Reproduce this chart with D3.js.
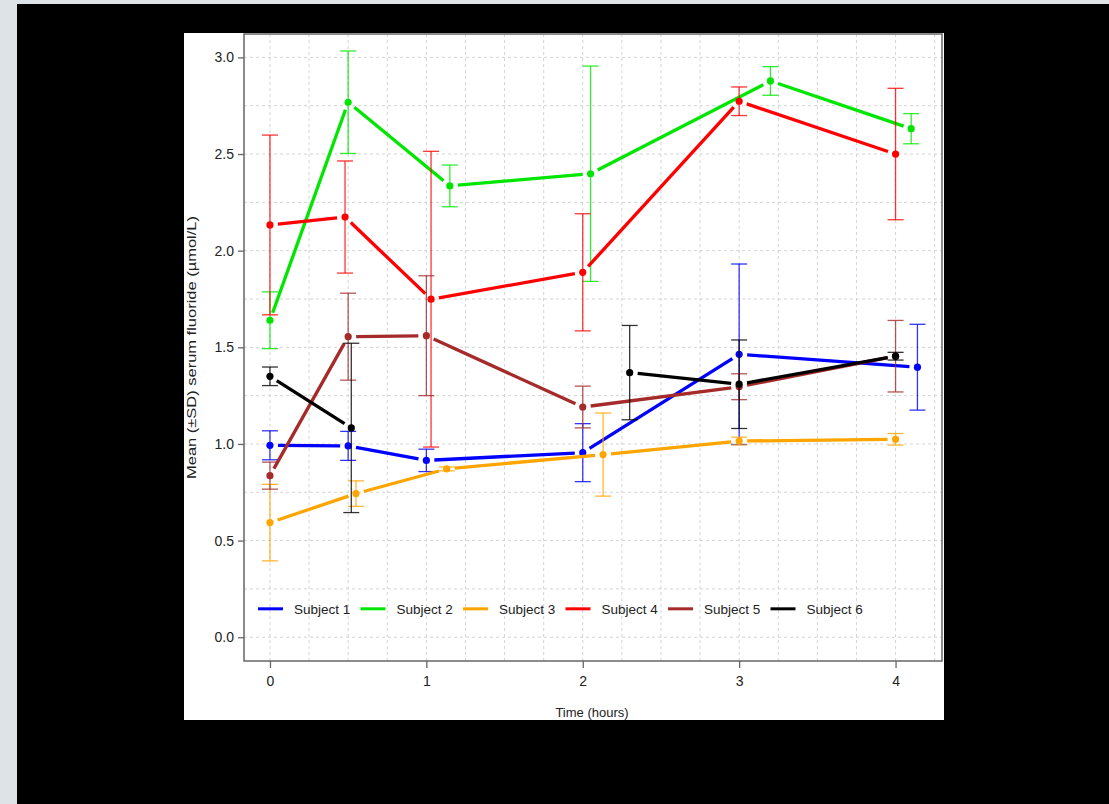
<!DOCTYPE html>
<html lang="en">

<head>
  <meta charset="UTF-8">
  <title>Serum fluoride by subject</title>
  <script src="https://cdn.jsdelivr.net/npm/d3@7/dist/d3.min.js"></script>
  <style>
    body {
      margin: 0;
      background: #000;
      overflow: hidden;
    }

    svg {
      display: block;
      font-family: 'Liberation Sans', Arial, sans-serif;
    }
  </style>
</head>

<body>
  <svg id="chart" width="1109" height="804"></svg>

  <script>
    // sample times (hours), mean and SD per subject
    const subjects = ["Subject 1", "Subject 2", "Subject 3", "Subject 4", "Subject 5", "Subject 6"];

    const timeS1 = [0, 0.5, 1, 2, 3, 4.14];
    const meanS1 = [0.993, 0.99, 0.915, 0.955, 1.464, 1.397];
    const sdS1 = [0.075, 0.075, 0.058, 0.15, 0.467, 0.222];

    const timeS2 = [0, 0.5, 1.15, 2.05, 3.2, 4.1];
    const meanS2 = [1.64, 2.768, 2.335, 2.398, 2.878, 2.631];
    const sdS2 = [0.147, 0.265, 0.108, 0.557, 0.074, 0.078];

    const timeS3 = [0, 0.55, 1.13, 2.13, 3, 4];
    const meanS3 = [0.593, 0.743, 0.871, 0.945, 1.015, 1.024];
    const sdS3 = [0.198, 0.066, 0.01, 0.215, 0.02, 0.03];

    const timeS4 = [0, 0.48, 1.03, 2, 3, 4];
    const meanS4 = [2.133, 2.174, 1.749, 1.888, 2.773, 2.5];
    const sdS4 = [0.465, 0.29, 0.765, 0.303, 0.074, 0.34];

    const timeS5 = [0, 0.5, 1, 2, 3, 4];
    const meanS5 = [0.836, 1.555, 1.56, 1.191, 1.296, 1.454];
    const sdS5 = [0.07, 0.225, 0.31, 0.108, 0.067, 0.185];

    // subject 6 has no 1 h sample
    const timeS6 = [0, 0.52, 1, 2.3, 3, 4];
    const meanS6 = [1.35, 1.083, null, 1.369, 1.309, 1.454];
    const sdS6 = [0.048, 0.438, null, 0.244, 0.229, 0.02];

    const xTicks = [0, 1, 2, 3, 4];
    const yTicks = [0, 0.5, 1, 1.5, 2, 2.5, 3];

    const colors = ["#0000ff", "#00e600", "#ffa500", "#ff0000", "#a52a2a", "#000000"];

    const series = [
      [timeS1, meanS1, sdS1], [timeS2, meanS2, sdS2], [timeS3, meanS3, sdS3],
      [timeS4, meanS4, sdS4], [timeS5, meanS5, sdS5], [timeS6, meanS6, sdS6]
    ].map(([t, m, s], k) => ({
      name: subjects[k],
      color: colors[k],
      points: t.map((d, i) => ({ t: d, m: m[i], sd: s[i] })).filter(p => p.m !== null)
    }));

    const svg = d3.select("#chart");

    // page frame: pale strip at the left/top, white panel on black
    svg.append("rect").attr("width", 1109).attr("height", 804).attr("fill", "#dde3e6");
    svg.append("rect").attr("x", 17).attr("y", 4).attr("width", 1092).attr("height", 800).attr("fill", "#000");
    svg.append("rect").attr("x", 184).attr("y", 33).attr("width", 760).attr("height", 687).attr("fill", "#fff");

    const box = { left: 244, top: 34, right: 942, bottom: 661 };

    const x = d3.scaleLinear().domain([-0.166, 4.297]).range([box.left, box.right]);
    const y = d3.scaleLinear().domain([-0.123, 3.121]).range([box.bottom, box.top]);

    // dashed grid every quarter unit
    const grid = svg.append("g").attr("stroke", "#d4d4d4").attr("stroke-dasharray", "3,3").attr("stroke-width", 1);
    grid.selectAll(".gx").data(d3.range(0, 4.26, 0.25)).enter().append("line")
      .attr("x1", d => x(d)).attr("x2", d => x(d))
      .attr("y1", box.top).attr("y2", box.bottom);
    grid.selectAll(".gy").data(d3.range(0, 3.01, 0.25)).enter().append("line")
      .attr("y1", d => y(d)).attr("y2", d => y(d))
      .attr("x1", box.left).attr("x2", box.right);

    // axes
    const xAxis = svg.append("g")
      .attr("transform", `translate(0,${box.bottom})`)
      .call(d3.axisBottom(x).tickValues(xTicks).tickFormat(d3.format("d")).tickSize(7).tickSizeOuter(0));
    const yAxis = svg.append("g")
      .attr("transform", `translate(${box.left},0)`)
      .call(d3.axisLeft(y).tickValues(yTicks).tickFormat(d3.format(".1f")).tickSize(6).tickSizeOuter(0));

    [xAxis, yAxis].forEach(a => {
      a.select(".domain").remove();
      a.selectAll(".tick line").attr("stroke", "#666").attr("stroke-width", 1.3);
      a.selectAll(".tick text").attr("fill", "#222").attr("font-size", 14)
        .attr("font-family", "'Liberation Sans', Arial, sans-serif");
    });
    xAxis.selectAll(".tick text").attr("dy", "1.05em");
    yAxis.selectAll(".tick text").attr("x", -10);

    svg.append("rect")
      .attr("x", box.left).attr("y", box.top)
      .attr("width", box.right - box.left).attr("height", box.bottom - box.top)
      .attr("fill", "none").attr("stroke", "#666").attr("stroke-width", 1.5);

    // axis titles
    svg.append("text")
      .attr("x", 592).attr("y", 717)
      .attr("text-anchor", "middle").attr("font-size", 13).attr("fill", "#222")
      .text("Time (hours)");
    svg.append("text")
      .attr("transform", `translate(196,${(box.top + box.bottom) / 2}) rotate(-90)`)
      .attr("text-anchor", "middle").attr("font-size", 13).attr("fill", "#222")
      .attr("textLength", 263).attr("lengthAdjust", "spacingAndGlyphs")
      .text("Mean (\u00b1SD) serum fluoride (\u00b5mol/L)");

    const gap = 8;
    const capHalf = 8;

    series.forEach(s => {
      const g = svg.append("g");

      // error bars
      const eb = g.selectAll(".eb").data(s.points.filter(p => p.sd > 0)).enter().append("g")
        .attr("stroke", s.color).attr("stroke-width", 1.3).attr("stroke-opacity", 0.8);
      eb.append("line")
        .attr("x1", p => x(p.t)).attr("x2", p => x(p.t))
        .attr("y1", p => y(p.m - p.sd)).attr("y2", p => y(p.m + p.sd));
      eb.append("line")
        .attr("x1", p => x(p.t) - capHalf).attr("x2", p => x(p.t) + capHalf)
        .attr("y1", p => y(p.m + p.sd)).attr("y2", p => y(p.m + p.sd));
      eb.append("line")
        .attr("x1", p => x(p.t) - capHalf).attr("x2", p => x(p.t) + capHalf)
        .attr("y1", p => y(p.m - p.sd)).attr("y2", p => y(p.m - p.sd));

      // line segments, broken around each point
      const segs = [];
      for (let i = 1; i < s.points.length; i++) {
        const a = s.points[i - 1], b = s.points[i];
        // skip the missing sample gap for subject 6
        if (s.name === "Subject 6" && a.t < 1 && b.t > 2) continue;
        const x0 = x(a.t), y0 = y(a.m), x1 = x(b.t), y1 = y(b.m);
        const len = Math.hypot(x1 - x0, y1 - y0);
        if (len <= 2 * gap) continue;
        const ux = (x1 - x0) / len, uy = (y1 - y0) / len;
        segs.push([[x0 + ux * gap, y0 + uy * gap], [x1 - ux * gap, y1 - uy * gap]]);
      }
      g.selectAll(".seg").data(segs).enter().append("path")
        .attr("d", d3.line())
        .attr("stroke", s.color).attr("stroke-width", 3.3).attr("fill", "none");

      g.selectAll(".pt").data(s.points).enter().append("circle")
        .attr("cx", p => x(p.t)).attr("cy", p => y(p.m)).attr("r", 3.6)
        .attr("fill", s.color);
    });

    // legend inside the plot, one row
    const legend = svg.append("g").attr("transform", `translate(258,${y(0.147)})`);
    const item = legend.selectAll(".item").data(series).enter().append("g")
      .attr("transform", (d, i) => `translate(${i * 102.5},0)`);
    item.append("line").attr("x1", 0).attr("x2", 25)
      .attr("stroke", d => d.color).attr("stroke-width", 3);
    item.append("text").attr("x", 36).attr("dy", "0.35em")
      .attr("font-size", 13.5).attr("fill", "#222")
      .text(d => d.name);
  </script>
</body>

</html>
